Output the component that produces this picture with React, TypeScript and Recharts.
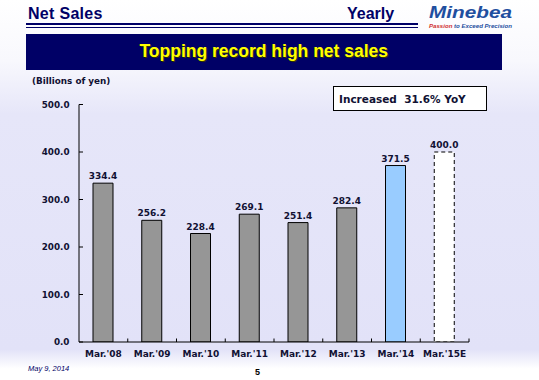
import React from 'react';
import { BarChart, Bar, XAxis, YAxis, Cell, LabelList } from 'recharts';

const categories = ["Mar.'08", "Mar.'09", "Mar.'10", "Mar.'11", "Mar.'12", "Mar.'13", "Mar.'14", "Mar.'15E"];
const netSales = [334.4, 256.2, 228.4, 269.1, 251.4, 282.4, 371.5, 400.0];
const yTicks = [0, 100, 200, 300, 400, 500];
const barFills = ['#969696', '#969696', '#969696', '#969696', '#969696', '#969696', '#99ccff', '#ffffff'];
const barDash = ['', '', '', '', '', '', '', '4 3'];

const data = categories.map((c, i) => ({ name: c, value: netSales[i] }));

const NAVY = '#000066';
const TEXT = '#111133';
const CHART_FONT = '"DejaVu Sans", Verdana, sans-serif';
const HEAD_FONT = '"Liberation Sans", Arial, sans-serif';

const W = 539;
const H = 380;
const PLOT_LEFT = 79;
const PLOT_RIGHT = 469;
const PLOT_TOP = 104.5;
const X_AXIS_H = 30;
const BOTTOM_M = 380 - 342 - X_AXIS_H;
const AXIS_Y = H - BOTTOM_M - X_AXIS_H;
const Y_AXIS_W = 50;
const BAND = (PLOT_RIGHT - PLOT_LEFT) / categories.length;

const XTick = (props: any) => {
  const { x, payload } = props;
  return (
    <g>
      <line x1={x + BAND / 2} x2={x + BAND / 2} y1={AXIS_Y} y2={AXIS_Y - 3.5} stroke="#000" strokeWidth={1} />
      <text x={x} y={AXIS_Y + 14.5} textAnchor="middle" fontFamily={CHART_FONT} fontWeight="bold" fontSize={9} fill={TEXT}>
        {payload.value}
      </text>
    </g>
  );
};

const YTick = (props: any) => {
  const { y, payload } = props;
  return (
    <g>
      <line x1={PLOT_LEFT} x2={PLOT_LEFT + 4} y1={y} y2={y} stroke="#000" strokeWidth={1} />
      <text x={PLOT_LEFT - 9.5} y={y + 3.3} textAnchor="end" fontFamily={CHART_FONT} fontWeight="bold" fontSize={8.8} fill={TEXT}>
        {Number(payload.value).toFixed(1)}
      </text>
    </g>
  );
};

export default function App() {
  return (
    <div
      style={{
        position: 'absolute',
        left: 0,
        top: 0,
        width: W,
        height: H,
        overflow: 'hidden',
        background: 'linear-gradient(180deg, #ffffff 0%, #f8f8fd 16%, #e6e6f9 30%, #e2e2f8 92%, #ffffff 97%)',
      }}
    >
      {/* Header */}
      <div style={{ position: 'absolute', left: 28, top: 4.5, fontFamily: HEAD_FONT, fontWeight: 'bold', fontSize: 16, letterSpacing: 0.3, color: NAVY }}>
        Net Sales
      </div>
      <div style={{ position: 'absolute', left: 347, top: 4.5, fontFamily: HEAD_FONT, fontWeight: 'bold', fontSize: 16, color: NAVY }}>
        Yearly
      </div>
      <div style={{ position: 'absolute', left: 25.5, top: 23.3, width: 392, height: 2, background: NAVY }} />
      <div style={{ position: 'absolute', left: 25.5, top: 27, width: 392, height: 1.3, background: NAVY }} />
      <div
        style={{
          position: 'absolute',
          left: 429,
          top: 3,
          fontFamily: HEAD_FONT,
          fontWeight: 'bold',
          fontStyle: 'italic',
          fontSize: 17,
          color: '#1f4f9f',
          transform: 'scaleX(1.22)',
          transformOrigin: 'left top',
          whiteSpace: 'nowrap',
        }}
      >
        Minebea
      </div>
      <div style={{ position: 'absolute', left: 429, top: 21.5, fontFamily: HEAD_FONT, fontWeight: 'bold', fontStyle: 'italic', fontSize: 6.1, color: '#1f4f9f', whiteSpace: 'nowrap' }}>
        <span style={{ color: '#d03030' }}>Passion</span> to Exceed Precision
      </div>
      {/* Banner */}
      <div
        style={{
          position: 'absolute',
          left: 25.5,
          top: 33.5,
          width: 476.5,
          height: 36.5,
          background: NAVY,
          display: 'flex',
          alignItems: 'center',
          justifyContent: 'center',
          fontFamily: HEAD_FONT,
          fontWeight: 'bold',
          fontSize: 17.5,
          color: '#ffff00',
          textShadow: '1px 1px 0 #333300',
        }}
      >
        Topping record high net sales
      </div>
      {/* Unit label */}
      <div style={{ position: 'absolute', left: 32, top: 75.5, fontFamily: CHART_FONT, fontWeight: 'bold', fontSize: 8.8, color: TEXT }}>
        (Billions of yen)
      </div>
      {/* Callout box */}
      <div
        style={{
          position: 'absolute',
          left: 333,
          top: 86,
          width: 154,
          height: 25,
          boxSizing: 'border-box',
          border: '1px solid #000',
          background: '#ffffff',
          fontFamily: CHART_FONT,
          fontWeight: 'bold',
          fontSize: 10.5,
          color: TEXT,
          display: 'flex',
          alignItems: 'center',
          paddingLeft: 5,
          whiteSpace: 'pre',
        }}
      >
        {'Increased  31.6% YoY'}
      </div>
      {/* Chart */}
      <div style={{ position: 'absolute', left: 0, top: 0 }}>
        <BarChart
          width={W}
          height={H}
          data={data}
          margin={{ top: PLOT_TOP, right: W - PLOT_RIGHT, bottom: BOTTOM_M, left: PLOT_LEFT - Y_AXIS_W }}
          barCategoryGap={0}
        >
          <XAxis
            dataKey="name"
            height={X_AXIS_H}
            tickLine={false}
            axisLine={{ stroke: '#000', strokeWidth: 1 }}
            tick={<XTick />}
            interval={0}
          />
          <YAxis
            width={Y_AXIS_W}
            domain={[0, 500]}
            ticks={yTicks}
            tickLine={false}
            axisLine={{ stroke: '#000', strokeWidth: 1 }}
            tick={<YTick />}
            allowDataOverflow
          />
          <Bar dataKey="value" barSize={20} isAnimationActive={false} stroke="#000" strokeWidth={1}>
            {data.map((d, i) => (
              <Cell key={d.name} fill={barFills[i]} stroke="#000" strokeDasharray={barDash[i] || undefined} />
            ))}
            <LabelList
              dataKey="value"
              position="top"
              offset={4}
              formatter={(v: any) => Number(v).toFixed(1)}
              style={{ fontFamily: CHART_FONT, fontWeight: 'bold', fontSize: 9, fill: TEXT }}
            />
          </Bar>
        </BarChart>
      </div>
      {/* Footer */}
      <div style={{ position: 'absolute', left: 28, top: 364, fontFamily: HEAD_FONT, fontStyle: 'italic', fontSize: 7.5, color: NAVY }}>
        May 9, 2014
      </div>
      <div style={{ position: 'absolute', left: 255, top: 367, fontFamily: HEAD_FONT, fontWeight: 'bold', fontSize: 9, color: '#000' }}>
        5
      </div>
    </div>
  );
}
